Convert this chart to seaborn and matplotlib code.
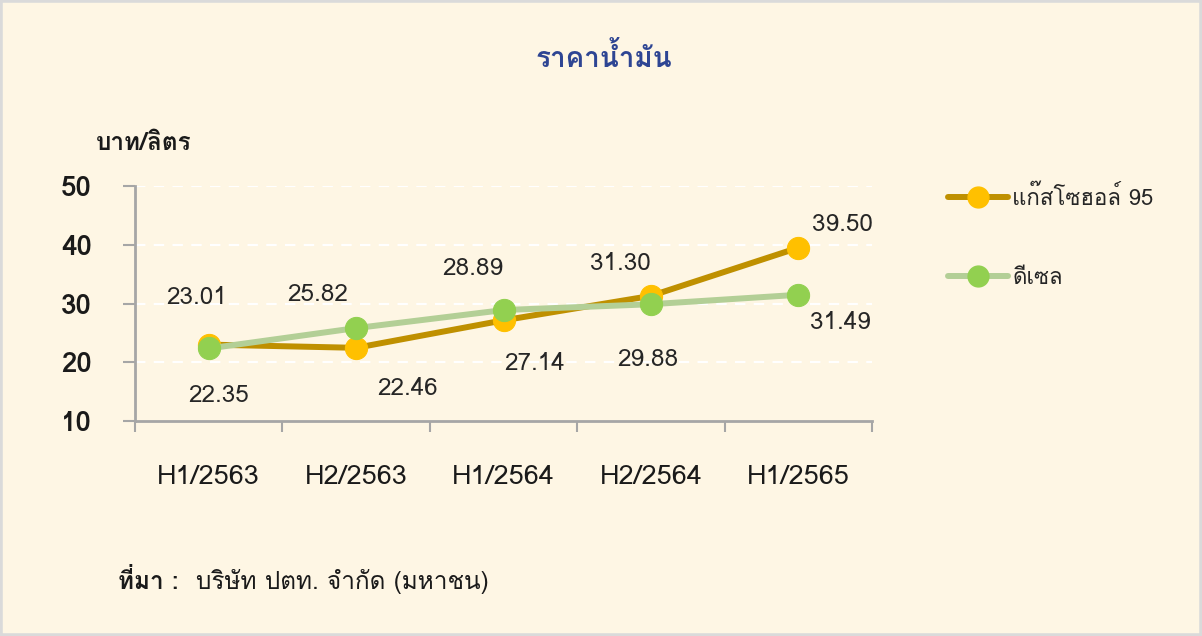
import matplotlib
matplotlib.use("Agg")
import matplotlib.pyplot as plt
import numpy as np
import pandas as pd
import seaborn as sns
from matplotlib import font_manager
from matplotlib.ft2font import FT2Font
from matplotlib.lines import Line2D
from matplotlib.patches import Rectangle

# ── Data ─────────────────────────────────────────────────────────────
periods = ["H1/2563", "H2/2563", "H1/2564", "H2/2564", "H1/2565"]
gasohol95 = [23.01, 22.46, 27.14, 31.30, 39.50]
diesel = [22.35, 25.82, 28.89, 29.88, 31.49]
series_names = ["แก๊สโซฮอล์ 95", "ดีเซล"]
y_ticks = [10, 20, 30, 40, 50]

title = "ราคาน้ำมัน"
y_label = "บาท/ลิตร"
source_head = "ที่มา :"
source_body = "บริษัท ปตท. จำกัด (มหาชน)"

# label offsets in points (dx, dy) for each point
gas_offsets = [(-9, 34), (37, -29), (22, -31), (-22, 23), (32, 17)]
dsl_offsets = [(7, -34), (-28, 24), (-22, 30), (-2, -40), (30, -20)]

BG = "#FEF6E4"
GAS_LINE, GAS_MARK = "#BF9000", "#FFC000"
DSL_LINE, DSL_MARK = "#B3CF96", "#92D050"
TXT = "#1a1a1a"


def _thai_font():
    """Find an installed family that can draw Thai glyphs."""
    for f in font_manager.fontManager.ttflist:
        try:
            if 0x0E01 in FT2Font(f.fname).get_charmap():
                return f.name
        except Exception:
            continue
    return None


sns.set_theme(style="white")
thai = _thai_font()
plt.rcParams["font.family"] = ([thai] if thai else []) + ["DejaVu Sans"]

fig = plt.figure(figsize=(12.02, 6.36), dpi=100, facecolor=BG)
fig.patches.append(Rectangle((0, 0), 1, 1, transform=fig.transFigure, fill=False,
                             edgecolor="#DADADA", linewidth=4, zorder=0))
ax = fig.add_axes([0.1123, 0.338, 0.6132, 0.3695])
ax.set_facecolor(BG)

df = pd.DataFrame({"period": periods * 2,
                   "price": gasohol95 + diesel,
                   "fuel": [series_names[0]] * 5 + [series_names[1]] * 5})

for name, lc, mc in [(series_names[0], GAS_LINE, GAS_MARK), (series_names[1], DSL_LINE, DSL_MARK)]:
    sns.lineplot(data=df[df["fuel"] == name], x="period", y="price", ax=ax, sort=False,
                 color=lc, linewidth=4.3, marker="o", markersize=16,
                 markerfacecolor=mc, markeredgecolor=mc, zorder=3)

for vals, offs in [(gasohol95, gas_offsets), (diesel, dsl_offsets)]:
    for i, (v, (dx, dy)) in enumerate(zip(vals, offs)):
        ax.annotate(f"{v:.2f}", (i, v), xytext=(dx, dy), textcoords="offset points",
                    ha="center", va="center", fontsize=17.5, color="#262626")

ax.set_xlim(-0.5, 4.5)
ax.set_ylim(10, 50)
ax.set_yticks(y_ticks)
ax.set_xticks(range(len(periods)))
ax.set_xticklabels(periods, fontsize=19.5, color=TXT)
ax.set_xticks(np.arange(-0.5, 5, 1), minor=True)
ax.tick_params(axis="x", which="major", length=0, pad=32)
ax.tick_params(axis="x", which="minor", bottom=True, length=8, width=1.5,
               color="#A6A6A6", direction="out")
ax.tick_params(axis="y", left=True, length=9, width=1.5, color="#A6A6A6",
               direction="out", labelsize=20, labelcolor=TXT, pad=22)
for lbl in ax.get_yticklabels():
    lbl.set_fontweight("bold")
ax.set_xlabel("")
ax.set_ylabel("")

for y in y_ticks[1:]:
    ax.axhline(y, color="white", linewidth=1.5, linestyle=(0, (5, 4)), zorder=1)

for s in ["top", "right"]:
    ax.spines[s].set_visible(False)
for s in ["left", "bottom"]:
    ax.spines[s].set_color("#A6A6A6")
    ax.spines[s].set_linewidth(2)

handles = [Line2D([], [], color=GAS_LINE, linewidth=4.3, marker="o", markersize=15,
                  markerfacecolor=GAS_MARK, markeredgecolor=GAS_MARK),
           Line2D([], [], color=DSL_LINE, linewidth=4.3, marker="o", markersize=15,
                  markerfacecolor=DSL_MARK, markeredgecolor=DSL_MARK)]
fig.legend(handles, series_names, loc="upper left", bbox_to_anchor=(0.772, 0.74),
           frameon=False, fontsize=16, handlelength=2.7, handletextpad=0.2,
           labelspacing=2.6)

fig.text(0.502, 0.91, title, ha="center", va="center", fontsize=20,
         fontweight="bold", color="#2E4593")
fig.text(0.08, 0.775, y_label, ha="left", va="center", fontsize=17.5,
         fontweight="bold", color=TXT)
fig.text(0.098, 0.085, source_head, ha="left", va="center", fontsize=17.5,
         fontweight="bold", color=TXT)
fig.text(0.163, 0.085, source_body, ha="left", va="center", fontsize=17.5, color=TXT)

fig.savefig("out.png", dpi=100, facecolor=BG)
plt.close(fig)
